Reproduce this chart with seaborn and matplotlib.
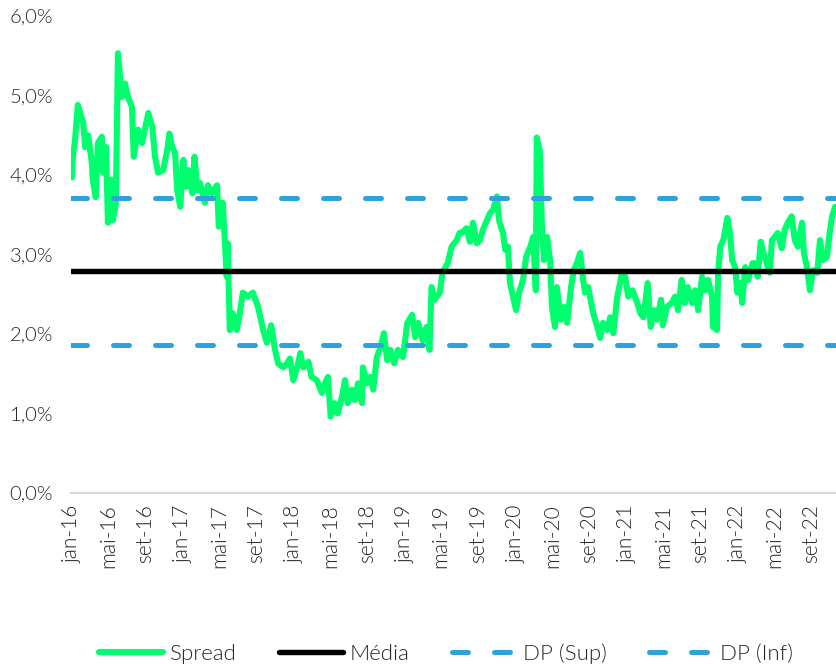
import numpy as np
import pandas as pd
import matplotlib
matplotlib.use('Agg')
import matplotlib.pyplot as plt
from matplotlib.ticker import FuncFormatter
import seaborn as sb

#-------------------------------------------------------------------------------------------------
# dados
#-------------------------------------------------------------------------------------------------
datas = ['2016-01-04', '2016-01-07', '2016-01-13', '2016-01-23', '2016-02-10', '2016-02-16', '2016-02-26',
         '2016-03-09', '2016-03-12', '2016-03-22', '2016-03-29', '2016-04-11', '2016-04-15', '2016-04-25',
         '2016-05-01', '2016-05-11', '2016-05-17', '2016-05-27', '2016-06-03', '2016-06-16', '2016-06-26',
         '2016-07-06', '2016-07-19', '2016-07-25', '2016-08-08', '2016-08-21', '2016-09-01', '2016-09-11',
         '2016-09-24', '2016-10-03', '2016-10-13', '2016-10-30', '2016-11-12', '2016-11-19', '2016-11-29',
         '2016-12-08', '2016-12-15', '2016-12-25', '2017-01-04', '2017-01-14', '2017-01-21', '2017-02-03',
         '2017-02-10', '2017-02-20', '2017-02-28', '2017-03-16', '2017-03-26', '2017-04-08', '2017-04-25',
         '2017-05-01', '2017-05-14', '2017-05-21', '2017-05-27', '2017-05-30', '2017-06-06', '2017-06-16',
         '2017-06-29', '2017-07-09', '2017-07-19', '2017-08-05', '2017-08-21', '2017-09-07', '2017-09-24',
         '2017-10-06', '2017-10-20', '2017-11-02', '2017-11-12', '2017-11-29', '2017-12-11', '2017-12-21',
         '2018-01-01', '2018-01-14', '2018-01-24', '2018-02-03', '2018-02-20', '2018-03-02', '2018-03-19',
         '2018-04-05', '2018-04-15', '2018-04-25', '2018-05-04', '2018-05-17', '2018-05-27', '2018-06-10',
         '2018-06-20', '2018-06-29', '2018-07-12', '2018-07-22', '2018-08-02', '2018-08-15', '2018-08-18',
         '2018-09-01', '2018-09-11', '2018-09-21', '2018-10-03', '2018-10-16', '2018-10-26', '2018-11-06',
         '2018-11-16', '2018-11-29', '2018-12-11', '2018-12-28', '2019-01-11', '2019-01-27', '2019-02-06',
         '2019-02-16', '2019-03-02', '2019-03-16', '2019-03-25', '2019-04-01', '2019-04-11', '2019-04-28',
         '2019-05-07', '2019-05-24', '2019-06-06', '2019-06-23', '2019-07-02', '2019-07-12', '2019-07-25',
         '2019-08-05', '2019-08-15', '2019-08-28', '2019-09-07', '2019-09-17', '2019-09-30', '2019-10-10',
         '2019-10-20', '2019-11-02', '2019-11-09', '2019-11-22', '2019-11-29', '2019-12-08', '2019-12-15',
         '2019-12-25', '2020-01-04', '2020-01-14', '2020-01-27', '2020-02-06', '2020-02-20', '2020-02-29',
         '2020-03-09', '2020-03-12', '2020-03-22', '2020-03-29', '2020-04-05', '2020-04-15', '2020-04-25',
         '2020-05-01', '2020-05-11', '2020-05-17', '2020-05-31', '2020-06-10', '2020-06-20', '2020-07-03',
         '2020-07-12', '2020-07-22', '2020-08-02', '2020-08-12', '2020-08-18', '2020-08-28', '2020-09-14',
         '2020-09-27', '2020-10-07', '2020-10-16', '2020-10-30', '2020-11-09', '2020-11-19', '2020-12-02',
         '2020-12-18', '2020-12-28', '2021-01-07', '2021-01-21', '2021-02-06', '2021-02-16', '2021-02-26',
         '2021-03-12', '2021-03-22', '2021-04-02', '2021-04-11', '2021-04-25', '2021-05-01', '2021-05-14',
         '2021-05-30', '2021-06-10', '2021-06-20', '2021-07-02', '2021-07-12', '2021-07-22', '2021-08-05',
         '2021-08-15', '2021-08-25', '2021-09-07', '2021-09-17', '2021-09-27', '2021-10-10', '2021-10-13',
         '2021-10-26', '2021-10-30', '2021-11-06', '2021-11-16', '2021-11-29', '2021-12-08', '2021-12-15',
         '2021-12-25', '2022-01-01', '2022-01-11', '2022-01-17', '2022-01-27', '2022-02-06', '2022-02-20',
         '2022-02-28', '2022-03-09', '2022-03-19', '2022-03-25', '2022-04-08', '2022-04-18', '2022-04-25',
         '2022-05-04', '2022-05-14', '2022-05-27', '2022-06-06', '2022-06-16', '2022-06-29', '2022-07-09',
         '2022-07-19', '2022-08-02', '2022-08-08', '2022-08-18', '2022-08-28', '2022-09-07', '2022-09-21',
         '2022-09-30', '2022-10-10', '2022-10-23', '2022-10-30', '2022-11-09', '2022-11-19', '2022-11-25']

spread = [3.97, 4.25, 4.40, 4.88, 4.65, 4.35, 4.50,
          4.15, 3.94, 3.72, 4.40, 4.48, 4.03, 4.35,
          3.40, 3.94, 3.43, 3.64, 5.53, 4.98, 5.15,
          4.98, 4.86, 4.23, 4.57, 4.40, 4.60, 4.78,
          4.60, 4.23, 4.03, 4.06, 4.31, 4.52, 4.35,
          4.28, 3.81, 3.60, 4.19, 3.85, 4.06, 3.77,
          4.23, 3.81, 3.90, 3.65, 3.87, 3.77, 3.87,
          3.35, 3.65, 3.14, 2.72, 3.14, 2.05, 2.26,
          2.05, 2.26, 2.52, 2.47, 2.52, 2.34, 2.05,
          1.89, 2.11, 1.80, 1.63, 1.58, 1.63, 1.69,
          1.42, 1.58, 1.76, 1.58, 1.65, 1.46, 1.42,
          1.26, 1.38, 1.46, 0.96, 1.13, 1.00, 1.21,
          1.42, 1.13, 1.30, 1.17, 1.38, 1.13, 1.58,
          1.38, 1.46, 1.30, 1.71, 1.84, 2.01, 1.67,
          1.80, 1.63, 1.80, 1.71, 2.14, 2.24, 1.96,
          2.14, 1.92, 2.09, 1.80, 2.59, 2.43, 2.52,
          2.77, 2.89, 3.10, 3.18, 3.27, 3.28, 3.33,
          3.16, 3.40, 3.14, 3.18, 3.31, 3.43, 3.52,
          3.56, 3.73, 3.43, 3.27, 3.06, 3.10, 2.64,
          2.47, 2.30, 2.52, 2.68, 2.97, 3.10, 3.22,
          2.55, 4.47, 4.31, 3.35, 2.93, 3.22, 2.93,
          2.34, 2.09, 2.59, 2.18, 2.34, 2.14, 2.59,
          2.80, 2.89, 3.02, 2.68, 2.52, 2.59, 2.26,
          2.09, 1.95, 2.14, 2.05, 2.21, 2.01, 2.47,
          2.77, 2.72, 2.47, 2.55, 2.39, 2.26, 2.21,
          2.64, 2.09, 2.30, 2.18, 2.43, 2.11, 2.34,
          2.39, 2.47, 2.30, 2.68, 2.39, 2.59, 2.39,
          2.55, 2.30, 2.72, 2.55, 2.68, 2.47, 2.09,
          2.05, 2.77, 3.10, 3.18, 3.46, 3.27, 2.93,
          2.84, 2.52, 2.64, 2.39, 2.84, 2.68, 2.89,
          2.89, 2.72, 3.16, 3.06, 2.89, 2.77, 3.18,
          3.22, 3.27, 3.08, 3.31, 3.40, 3.48, 3.18,
          3.10, 3.40, 3.02, 2.84, 2.55, 2.80, 2.77,
          3.18, 2.93, 2.97, 3.22, 3.48, 3.60, 3.55]

media = 2.79
dp_sup = 3.71
dp_inf = 1.86

meses_pt = ['jan', 'fev', 'mar', 'abr', 'mai', 'jun', 'jul', 'ago', 'set', 'out', 'nov', 'dez']

df = pd.DataFrame({'data': pd.to_datetime(datas), 'spread': spread})

#-------------------------------------------------------------------------------------------------
# grafico
#-------------------------------------------------------------------------------------------------
sb.set_style('white')
plt.rcParams['font.family'] = ['Lato', 'DejaVu Sans']
plt.rcParams['font.weight'] = 300
cinza = '#262626'

fig = plt.figure(figsize=(8.37, 6.64), dpi=100)
ax = fig.add_axes([0.085, 0.2575, 0.915, 0.7185])

sb.lineplot(data=df, x='data', y='spread', ax=ax, color='#00FF6E', linewidth=4.4,
            label='Spread', solid_capstyle='round', solid_joinstyle='round', zorder=3)
ax.axhline(media, color='black', linewidth=3.9, label='Média', zorder=4)
ax.axhline(dp_sup, color='#2EA3DB', linewidth=3.6, dashes=(3.2, 5.2), dash_capstyle='round',
           label='DP (Sup)', zorder=5)
ax.axhline(dp_inf, color='#2EA3DB', linewidth=3.6, dashes=(3.2, 5.2), dash_capstyle='round',
           label='DP (Inf)', zorder=5)

ax.set_ylim(0, 6)
ax.set_xlim(pd.Timestamp('2016-01-01'), pd.Timestamp('2022-11-25'))
ax.set_yticks(np.arange(0, 7, 1))
ax.yaxis.set_major_formatter(FuncFormatter(lambda v, p: f'{v:.1f}%'.replace('.', ',')))

ticks = pd.date_range('2016-01-01', '2022-09-01', freq='4MS')
ax.set_xticks(ticks)
ax.set_xticklabels([f'{meses_pt[t.month - 1]}-{t.strftime("%y")}' for t in ticks], rotation=90)

ax.tick_params(axis='y', length=0, pad=13, labelsize=14.5, labelcolor=cinza)
ax.tick_params(axis='x', length=0, pad=8, labelsize=15, labelcolor=cinza)
ax.set_xlabel('')
ax.set_ylabel('')

for s in ['top', 'right', 'left']:
    ax.spines[s].set_visible(False)
ax.spines['bottom'].set_color('#D9D9D9')
ax.spines['bottom'].set_linewidth(1.5)

leg = fig.legend(*ax.get_legend_handles_labels(), loc='center', bbox_to_anchor=(0.533, 0.016),
                 ncol=4, frameon=False, fontsize=16, handlelength=2.9, handletextpad=0.3,
                 columnspacing=1.9, borderpad=0)
for t in leg.get_texts():
    t.set_color(cinza)
ax.get_legend().remove()

fig.savefig('out.png', dpi=100)
